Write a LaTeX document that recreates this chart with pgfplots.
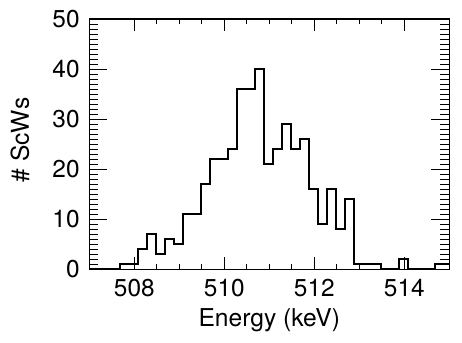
\documentclass[border=0pt]{standalone}
\usepackage{fontspec}
\setmainfont{TeX Gyre Heros}
\usepackage{pgfplots}
\pgfplotsset{compat=1.18}

\begin{document}
\begin{tikzpicture}[font=\fontsize{24.4}{28}\selectfont]
\useasboundingbox (-89.3pt,-72.7pt) rectangle (372.7pt,269.3pt);
\begin{axis}[
  at={(0,0)}, anchor=south west,
  scale only axis, width=360pt, height=250.3pt,
  xmin=507, xmax=515, ymin=0, ymax=50,
  xtick={508,510,512,514}, ytick={0,10,20,30,40,50},
  minor x tick num=3, minor y tick num=9,
  tick align=inside,
  axis line style={line width=1.1pt},
  every tick/.style={black, line width=1pt},
  xtick style={/pgfplots/major tick length=12pt, /pgfplots/minor tick length=5pt},
  ytick style={/pgfplots/major tick length=18pt, /pgfplots/minor tick length=9pt},
  /pgf/number format/assume math mode=true,
  /pgf/number format/set thousands separator={},
  tick label style={font=\fontsize{24.4}{28}\selectfont},
  label style={font=\fontsize{24.6}{28}\selectfont},
  xticklabel shift=6pt, yticklabel shift=6.2pt,
  xlabel={Energy (keV)}, ylabel={\# ScWs},
  xlabel style={at={(axis description cs:0.5,-0.229)}, anchor=base},
  ylabel style={at={(axis description cs:-0.1925,0.517)}, anchor=center},
]
% histogram, 0.2 keV bins (left edge, counts)
\addplot[const plot, black, line width=1.8pt] coordinates {
(507.00,0) (507.68,1) (507.88,1) (508.08,4) (508.28,7) (508.48,3) (508.68,6)
(508.88,5) (509.08,11) (509.28,11) (509.48,17) (509.68,22) (509.88,22)
(510.08,24) (510.28,36) (510.48,36) (510.68,40) (510.88,21) (511.08,24)
(511.28,29) (511.48,24) (511.68,26) (511.88,16) (512.08,9) (512.28,16)
(512.48,8) (512.68,14) (512.88,1) (513.08,1) (513.28,1) (513.48,0)
(513.88,2) (514.08,0) (514.68,1) (514.88,1) (515.00,1)
};
\end{axis}
\end{tikzpicture}
\end{document}
